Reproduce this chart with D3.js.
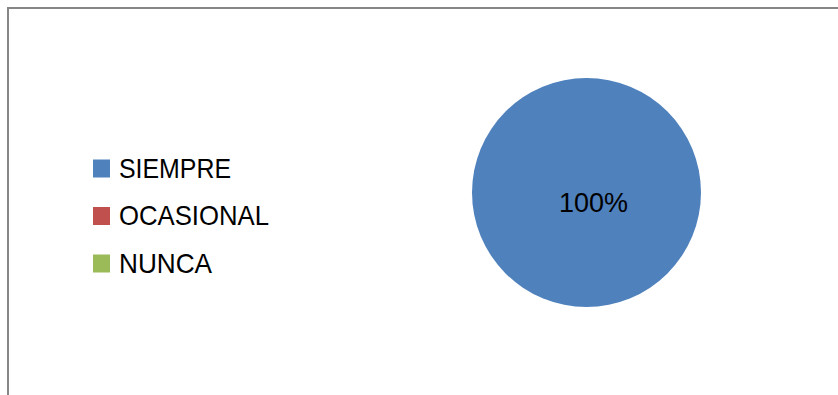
<!DOCTYPE html>
<html>
<head>
<meta charset="utf-8">
<script src="https://cdn.jsdelivr.net/npm/d3@7"></script>
<style>
  html, body { margin: 0; padding: 0; background: #fff; }
  svg { display: block; }
  text { font-family: "Liberation Sans", Arial, sans-serif; fill: #000; }
</style>
</head>
<body>
<script>
// Survey answers and their shares
const categories = ["SIEMPRE", "OCASIONAL", "NUNCA"];
const values = [100, 0, 0];
const colors = ["#4F81BD", "#C0504D", "#9BBB59"];

const width = 838, height = 395;
const svg = d3.select("body").append("svg")
  .attr("width", width).attr("height", height);

// Chart area frame (runs off the right and bottom edges)
svg.append("rect")
  .attr("x", 8).attr("y", 8)
  .attr("width", 900).attr("height", 500)
  .attr("fill", "#fff")
  .attr("stroke", "#868686")
  .attr("stroke-width", 2);

// Pie
const cx = 586.5, cy = 192.5, radius = 114.5;
const pie = d3.pie().sort(null).value(d => d);
const arc = d3.arc().innerRadius(0).outerRadius(radius);
const arcs = pie(values);
const total = d3.sum(values);

const g = svg.append("g").attr("transform", `translate(${cx},${cy})`);
g.selectAll("path")
  .data(arcs)
  .join("path")
  .attr("d", arc)
  .attr("fill", (d, i) => colors[i]);

// Percentage labels for non-empty slices
const fmt = d3.format(".0%");
const isFull = d => (d.endAngle - d.startAngle) >= 2 * Math.PI - 1e-6;
g.selectAll("text.lbl")
  .data(arcs.filter(d => d.value > 0))
  .join("text")
  .attr("class", "lbl")
  .attr("x", d => isFull(d) ? 7 : arc.centroid(d)[0])
  .attr("y", d => isFull(d) ? 19 : arc.centroid(d)[1])
  .attr("text-anchor", "middle")
  .attr("font-size", 28)
  .attr("textLength", 69)
  .attr("lengthAdjust", "spacingAndGlyphs")
  .text(d => fmt(d.value / total));

// Legend
const legendY = d3.scalePoint().domain(categories).range([177.5, 272.5]);
const legendWidths = [112, 150, 93];
const legend = svg.append("g");
const items = legend.selectAll("g")
  .data(categories)
  .join("g")
  .attr("transform", d => `translate(93,${legendY(d)})`);
items.append("rect")
  .attr("x", 0).attr("y", -18)
  .attr("width", 17).attr("height", 18)
  .attr("fill", (d, i) => colors[i]);
items.append("text")
  .attr("x", 26).attr("y", 0)
  .attr("font-size", 28)
  .attr("textLength", (d, i) => legendWidths[i])
  .attr("lengthAdjust", "spacingAndGlyphs")
  .text(d => d);
</script>
</body>
</html>
